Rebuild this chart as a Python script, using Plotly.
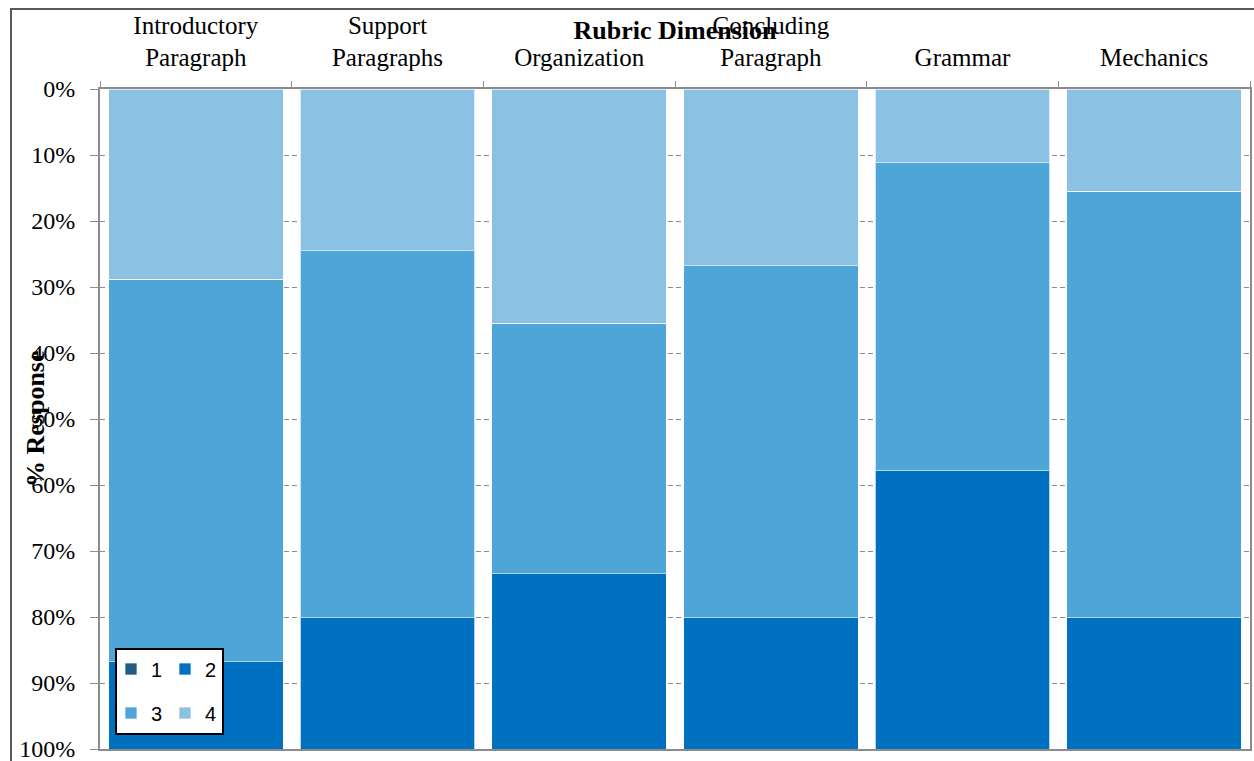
import plotly.graph_objects as go

# Rubric dimensions (x axis, shown along the top)
categories = [
    "Introductory<br>Paragraph",
    "Support<br>Paragraphs",
    "Organization",
    "Concluding<br>Paragraph",
    "Grammar",
    "Mechanics",
]

# Percentage of responses at each rubric score
score_1 = [0.0, 0.0, 0.0, 0.0, 0.0, 0.0]
score_2 = [13.3, 20.0, 26.7, 20.0, 42.2, 20.0]
score_3 = [57.8, 55.6, 37.8, 53.3, 46.7, 64.4]
score_4 = [28.9, 24.4, 35.6, 26.7, 11.1, 15.6]

y_ticks = list(range(0, 101, 10))

colors = {"1": "#215C84", "2": "#0070C0", "3": "#4EA5D8", "4": "#8BC1E3"}
serif = "Liberation Serif, Times New Roman, serif"
sans = "Liberation Sans, Arial, sans-serif"
axis_gray = "#8C8C8C"

W, H = 1254, 761
L, R, T, B = 100, 4, 89, 12
PW, PH = W - L - R, H - T - B


def px_x(px):
    return (px - L) / PW


def px_y(py):
    return (H - B - py) / PH


fig = go.Figure()

# stacked from 0% (top) downward: score 4, then 3, 2, 1
series = [
    ("4", score_4, "legend2", 4),
    ("3", score_3, "legend2", 3),
    ("2", score_2, "legend", 2),
    ("1", score_1, "legend", 1),
]
for name, vals, leg, rank in series:
    fig.add_trace(
        go.Bar(
            x=categories,
            y=vals,
            name=name,
            marker=dict(color=colors[name], line=dict(color="rgba(255,255,255,0.7)", width=1)),
            legend=leg,
            legendrank=rank,
        )
    )

legend_common = dict(
    orientation="h",
    traceorder="normal",
    xanchor="left",
    yanchor="middle",
    bgcolor="rgba(0,0,0,0)",
    borderwidth=0,
    font=dict(family=sans, size=20, color="black"),
    entrywidth=9,
    entrywidthmode="pixels",
    itemwidth=30,
)

fig.update_layout(
    width=W,
    height=H,
    margin=dict(l=L, r=R, t=T, b=B, autoexpand=False),
    paper_bgcolor="white",
    plot_bgcolor="white",
    barmode="stack",
    bargap=0.09,
    title=dict(
        text="<b>Rubric Dimension</b>",
        x=0.5,
        xref="paper",
        xanchor="center",
        y=1 - 30 / H,
        yanchor="middle",
        font=dict(family=serif, size=26, color="black"),
    ),
    legend=dict(x=px_x(111), y=px_y(669), **legend_common),
    legend2=dict(x=px_x(111), y=px_y(713), **legend_common),
    xaxis=dict(
        side="top",
        tickson="boundaries",
        ticks="outside",
        ticklen=6,
        tickcolor=axis_gray,
        tickwidth=1,
        ticklabelstandoff=11,
        showline=True,
        linecolor=axis_gray,
        linewidth=2,
        mirror=True,
        showgrid=False,
        automargin=False,
        tickfont=dict(family=serif, size=25, color="black"),
        fixedrange=True,
    ),
    yaxis=dict(
        range=[100, 0],
        tickvals=y_ticks,
        ticktext=[f"{v}%" for v in y_ticks],
        ticks="outside",
        ticklen=8,
        tickcolor=axis_gray,
        tickwidth=1,
        ticklabelstandoff=10,
        ticklabeloverflow="allow",
        showline=True,
        linecolor=axis_gray,
        linewidth=2,
        mirror=True,
        showgrid=True,
        gridcolor=axis_gray,
        gridwidth=1,
        griddash="5px,3px",
        zeroline=False,
        automargin=False,
        tickfont=dict(family=serif, size=24, color="black"),
        fixedrange=True,
    ),
    shapes=[
        # outer chart frame
        dict(
            type="rect",
            xref="paper",
            yref="paper",
            x0=px_x(11),
            x1=px_x(W + 10),
            y0=px_y(H + 10),
            y1=px_y(9),
            line=dict(color="#595959", width=2),
            fillcolor="rgba(0,0,0,0)",
            layer="below",
        ),
        # legend box
        dict(
            type="rect",
            xref="paper",
            yref="paper",
            x0=px_x(116),
            x1=px_x(223),
            y0=px_y(734),
            y1=px_y(649),
            line=dict(color="black", width=2),
            fillcolor="white",
            layer="above",
        ),
    ],
    annotations=[
        dict(
            text="<b>% Response</b>",
            xref="paper",
            yref="paper",
            x=px_x(35),
            y=0.5,
            xanchor="center",
            yanchor="middle",
            textangle=-90,
            showarrow=False,
            font=dict(family=serif, size=26, color="black"),
        )
    ],
)

fig.write_html("out.html")
